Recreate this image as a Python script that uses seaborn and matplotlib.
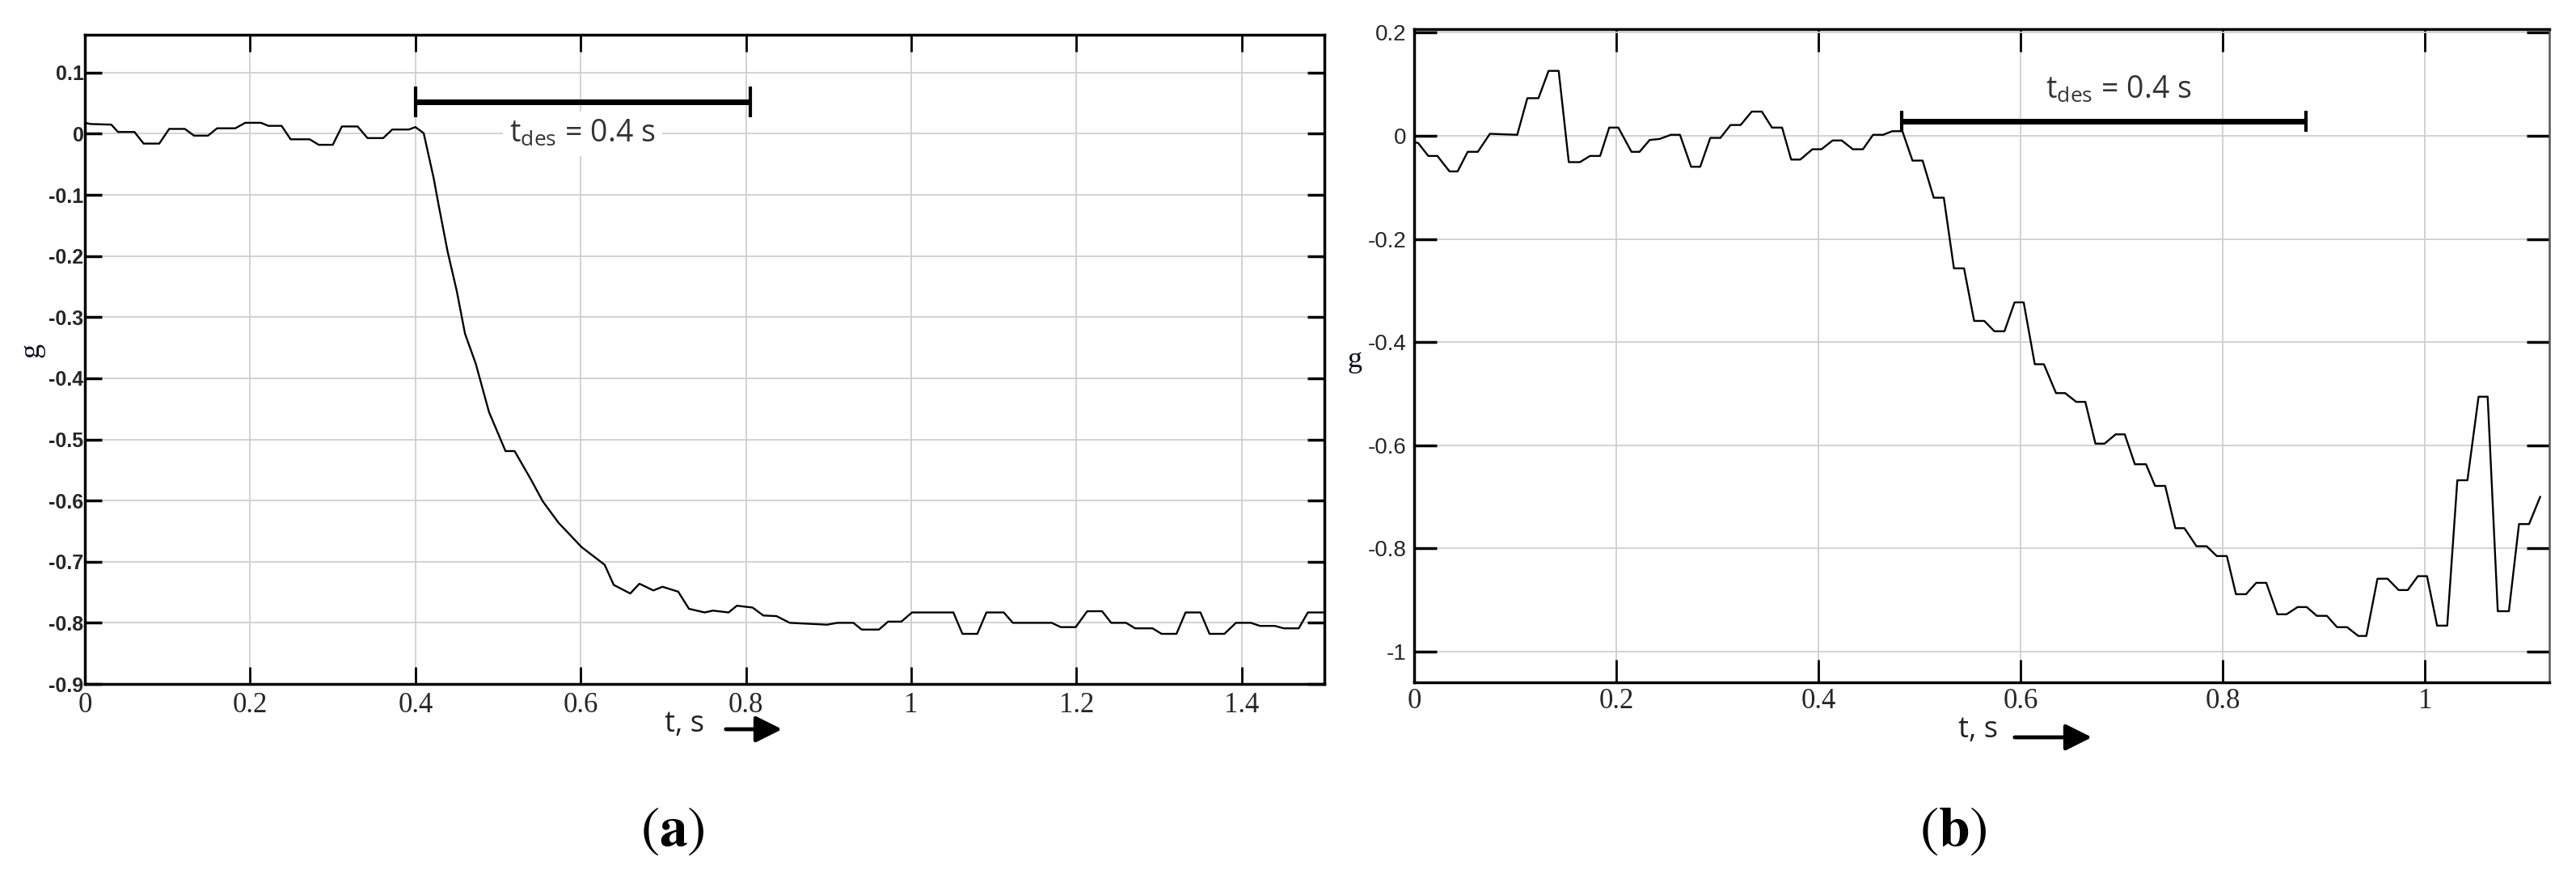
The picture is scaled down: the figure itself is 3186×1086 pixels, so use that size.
import matplotlib
matplotlib.use("Agg")
import matplotlib.pyplot as plt
import seaborn as sns

# ---------------- data ----------------
# (a) acceleration, g
t_a = [0, 0.007, 0.032, 0.040, 0.060, 0.071, 0.090, 0.102, 0.121, 0.132,
       0.149, 0.160, 0.182, 0.194, 0.213, 0.222, 0.238, 0.249, 0.272, 0.283,
       0.300, 0.311, 0.330, 0.342, 0.361, 0.372, 0.392, 0.400, 0.410, 0.422,
       0.428, 0.439, 0.450, 0.460, 0.473, 0.489, 0.509, 0.520, 0.540, 0.554,
       0.573, 0.601, 0.629, 0.640, 0.660, 0.671, 0.688, 0.699, 0.718, 0.731,
       0.750, 0.760, 0.779, 0.789, 0.808, 0.821, 0.837, 0.853, 0.898, 0.911,
       0.930, 0.940, 0.961, 0.972, 0.988, 1.001, 1.051, 1.062, 1.080, 1.091,
       1.112, 1.123, 1.170, 1.181, 1.199, 1.213, 1.231, 1.242, 1.260, 1.271,
       1.292, 1.303, 1.321, 1.332, 1.350, 1.361, 1.379, 1.393, 1.411, 1.422,
       1.440, 1.451, 1.469, 1.480, 1.500]
g_a = [0.018, 0.016, 0.015, 0.003, 0.003, -0.016, -0.016, 0.008, 0.008, -0.003,
       -0.003, 0.009, 0.009, 0.018, 0.018, 0.013, 0.013, -0.009, -0.009, -0.018,
       -0.018, 0.012, 0.012, -0.007, -0.007, 0.007, 0.007, 0.011, 0.001, -0.072,
       -0.116, -0.193, -0.257, -0.327, -0.376, -0.455, -0.519, -0.519, -0.566, -0.601,
       -0.636, -0.676, -0.705, -0.738, -0.752, -0.736, -0.747, -0.741, -0.749, -0.777,
       -0.783, -0.780, -0.783, -0.772, -0.775, -0.788, -0.789, -0.800, -0.803, -0.800,
       -0.800, -0.811, -0.811, -0.798, -0.798, -0.783, -0.783, -0.818, -0.818, -0.783,
       -0.783, -0.800, -0.800, -0.807, -0.807, -0.781, -0.781, -0.800, -0.800, -0.809,
       -0.809, -0.818, -0.818, -0.783, -0.783, -0.818, -0.818, -0.800, -0.800, -0.805,
       -0.805, -0.809, -0.809, -0.783, -0.783]

# (b)
t_b = [0, 0.004, 0.014, 0.023, 0.035, 0.043, 0.053, 0.063, 0.075, 0.088,
       0.102, 0.112, 0.123, 0.133, 0.143, 0.153, 0.164, 0.174, 0.184, 0.193,
       0.202, 0.215, 0.223, 0.233, 0.243, 0.254, 0.263, 0.274, 0.283, 0.293,
       0.303, 0.313, 0.323, 0.334, 0.344, 0.354, 0.364, 0.373, 0.382, 0.394,
       0.403, 0.414, 0.423, 0.434, 0.444, 0.454, 0.464, 0.473, 0.483, 0.493,
       0.503, 0.514, 0.524, 0.534, 0.544, 0.554, 0.564, 0.574, 0.584, 0.594,
       0.603, 0.614, 0.623, 0.635, 0.644, 0.655, 0.664, 0.674, 0.683, 0.694,
       0.703, 0.713, 0.724, 0.733, 0.743, 0.753, 0.762, 0.774, 0.784, 0.794,
       0.804, 0.813, 0.823, 0.833, 0.843, 0.854, 0.863, 0.874, 0.883, 0.893,
       0.903, 0.913, 0.923, 0.934, 0.942, 0.953, 0.963, 0.974, 0.983, 0.993,
       1.002, 1.012, 1.022, 1.032, 1.042, 1.053, 1.062, 1.072, 1.083, 1.093,
       1.103, 1.114]
g_b = [-0.012, -0.014, -0.039, -0.039, -0.069, -0.069, -0.031, -0.031, 0.004, 0.003,
       0.002, 0.073, 0.073, 0.126, 0.126, -0.051, -0.051, -0.039, -0.039, 0.016,
       0.016, -0.031, -0.031, -0.008, -0.006, 0.002, 0.002, -0.060, -0.060, -0.004,
       -0.004, 0.021, 0.021, 0.047, 0.047, 0.016, 0.016, -0.046, -0.046, -0.026,
       -0.026, -0.009, -0.009, -0.026, -0.026, 0.002, 0.002, 0.009, 0.009, -0.048,
       -0.048, -0.120, -0.120, -0.257, -0.257, -0.359, -0.359, -0.379, -0.379, -0.323,
       -0.323, -0.443, -0.443, -0.499, -0.499, -0.516, -0.516, -0.597, -0.597, -0.579,
       -0.579, -0.637, -0.637, -0.679, -0.679, -0.761, -0.761, -0.796, -0.796, -0.815,
       -0.815, -0.889, -0.889, -0.867, -0.867, -0.928, -0.928, -0.914, -0.914, -0.931,
       -0.931, -0.953, -0.953, -0.970, -0.970, -0.859, -0.859, -0.881, -0.881, -0.854,
       -0.854, -0.950, -0.950, -0.668, -0.668, -0.506, -0.506, -0.922, -0.922, -0.753,
       -0.753, -0.700]

# axis ticks / labels
xticks_a = [0, 0.2, 0.4, 0.6, 0.8, 1.0, 1.2, 1.4]
xlabels_a = ["0", "0.2", "0.4", "0.6", "0.8", "1", "1.2", "1.4"]
yticks_a = [0.1, 0, -0.1, -0.2, -0.3, -0.4, -0.5, -0.6, -0.7, -0.8, -0.9]
ylabels_a = ["0.1", "0", "-0.1", "-0.2", "-0.3", "-0.4", "-0.5", "-0.6", "-0.7", "-0.8", "-0.9"]

xticks_b = [0, 0.2, 0.4, 0.6, 0.8, 1.0]
xlabels_b = ["0", "0.2", "0.4", "0.6", "0.8", "1"]
yticks_b = [0.2, 0, -0.2, -0.4, -0.6, -0.8, -1.0]
ylabels_b = ["0.2", "0", "-0.2", "-0.4", "-0.6", "-0.8", "-1"]

# t_des interval markers (start, end) and the level they are drawn at
tdes_a = [0.400, 0.805]
tdes_a_level = 0.0525
tdes_b = [0.482, 0.882]
tdes_b_level = 0.028
tdes_text = r"t$_{\mathregular{des}}$ = 0.4 s"

# ---------------- style ----------------
sns.set_theme(style="whitegrid")
plt.rcParams["font.family"] = ["Liberation Sans", "DejaVu Sans"]
plt.rcParams["mathtext.fontset"] = "stix"

W, H = 3186, 1086
fig = plt.figure(figsize=(W / 100, H / 100), dpi=100)
fig.patch.set_facecolor("white")

ax1 = fig.add_axes([105 / W, 1 - 846 / H, 1533 / W, 803 / H])
ax2 = fig.add_axes([1749 / W, 1 - 844 / H, 1404 / W, 808 / H])


def style_axes(ax, xt, xl, yt, yl, ylab_font, ytick_pad, xtick_pad, tick_len):
    ax.set_facecolor("white")
    ax.set_axisbelow(True)
    ax.grid(True, color="#cfcfcf", linewidth=1.3)
    ax.set_xticks(xt)
    ax.set_xticklabels(xl, family="Liberation Serif", fontsize=25)
    ax.set_yticks(yt)
    ax.set_yticklabels(yl, **ylab_font)
    ax.tick_params(axis="x", direction="in", top=True, bottom=True,
                   length=tick_len, width=2, color="black", pad=xtick_pad)
    ax.tick_params(axis="y", direction="in", left=True, right=True,
                   length=tick_len, width=2.5, color="black", pad=ytick_pad)
    for s in ax.spines.values():
        s.set_visible(True)
        s.set_color("black")
        s.set_linewidth(2.5)
    ax.set_xlabel("")
    ax.set_ylabel("")


# ---------------- (a) ----------------
sns.lineplot(x=t_a, y=g_a, ax=ax1, color="black", linewidth=1.7,
             estimator=None, sort=False)
ax1.set_xlim(0, 1.5)
ax1.set_ylim(-0.9, 0.162)
style_axes(ax1, xticks_a, xlabels_a, yticks_a, ylabels_a,
           dict(family="Liberation Sans", fontsize=18, fontweight="bold"),
           ytick_pad=1, xtick_pad=7, tick_len=15)

ax1.plot(tdes_a, [tdes_a_level] * 2, color="black", linewidth=5,
         solid_capstyle="butt")
ax1.plot(tdes_a, [tdes_a_level] * 2, color="black", linestyle="none",
         marker="|", markersize=27, markeredgewidth=3)
ax1.text(sum(tdes_a) / 2, 0.0, tdes_text, ha="center", va="center",
         family="Open Sans", fontsize=27, color="#333333",
         bbox=dict(facecolor="white", edgecolor="none", pad=6))

# ---------------- (b) ----------------
sns.lineplot(x=t_b, y=g_b, ax=ax2, color="black", linewidth=1.7,
             estimator=None, sort=False)
ax2.set_xlim(0, 1.123)
ax2.set_ylim(-1.06, 0.207)
style_axes(ax2, xticks_b, xlabels_b, yticks_b, ylabels_b,
           dict(family="Liberation Sans", fontsize=20),
           ytick_pad=7, xtick_pad=5, tick_len=20)
ax2.tick_params(axis="y", which="both", right=True, length=4, width=1)
ax2.tick_params(axis="y", left=True, length=20, width=2.5)
ax2.spines["right"].set_color("#555555")
ax2.spines["right"].set_linewidth(1.8)

ax2.plot(tdes_b, [tdes_b_level] * 2, color="black", linewidth=5,
         solid_capstyle="butt")
ax2.plot(tdes_b, [tdes_b_level] * 2, color="black", linestyle="none",
         marker="|", markersize=19, markeredgewidth=3)
ax2.text(0.697, 0.088, tdes_text, ha="center", va="center",
         family="Open Sans", fontsize=27, color="#333333")

# ---------------- axis names, arrows, panel letters ----------------
fig.text(39 / W, 1 - 433 / H, "g", rotation=90, ha="center", va="center",
         family="Liberation Serif", fontsize=26, color="#111122")
fig.text(1676 / W, 1 - 445 / H, "g", ha="center", va="center",
         family="Liberation Serif", fontsize=26, color="#111122")

fig.text(846 / W, 1 - 905 / H, "t, s", ha="center", va="baseline",
         family="Open Sans", fontsize=26, color="#222222")
fig.text(2446 / W, 1 - 912 / H, "t, s", ha="center", va="baseline",
         family="Open Sans", fontsize=26, color="#222222")

arrowstyle = "-|>,head_length=0.9,head_width=0.45"
fig.add_artist(matplotlib.patches.FancyArrowPatch(
    (895 / W, 1 - 902 / H), (970 / W, 1 - 902 / H),
    transform=fig.transFigure, mutation_scale=22,
    arrowstyle=arrowstyle, color="black", lw=3.5))
fig.add_artist(matplotlib.patches.FancyArrowPatch(
    (2489 / W, 1 - 912 / H), (2590 / W, 1 - 912 / H),
    transform=fig.transFigure, mutation_scale=22,
    arrowstyle=arrowstyle, color="black", lw=3.5))

fig.text(832 / W, 1 - 1028 / H, r"$\mathrm{(}\mathbf{a}\mathrm{)}$",
         ha="center", va="center", fontsize=50, color="black")
fig.text(2416 / W, 1 - 1028 / H, r"$\mathrm{(}\mathbf{b}\mathrm{)}$",
         ha="center", va="center", fontsize=50, color="black")

fig.savefig("out.png", dpi=100, facecolor="white")
